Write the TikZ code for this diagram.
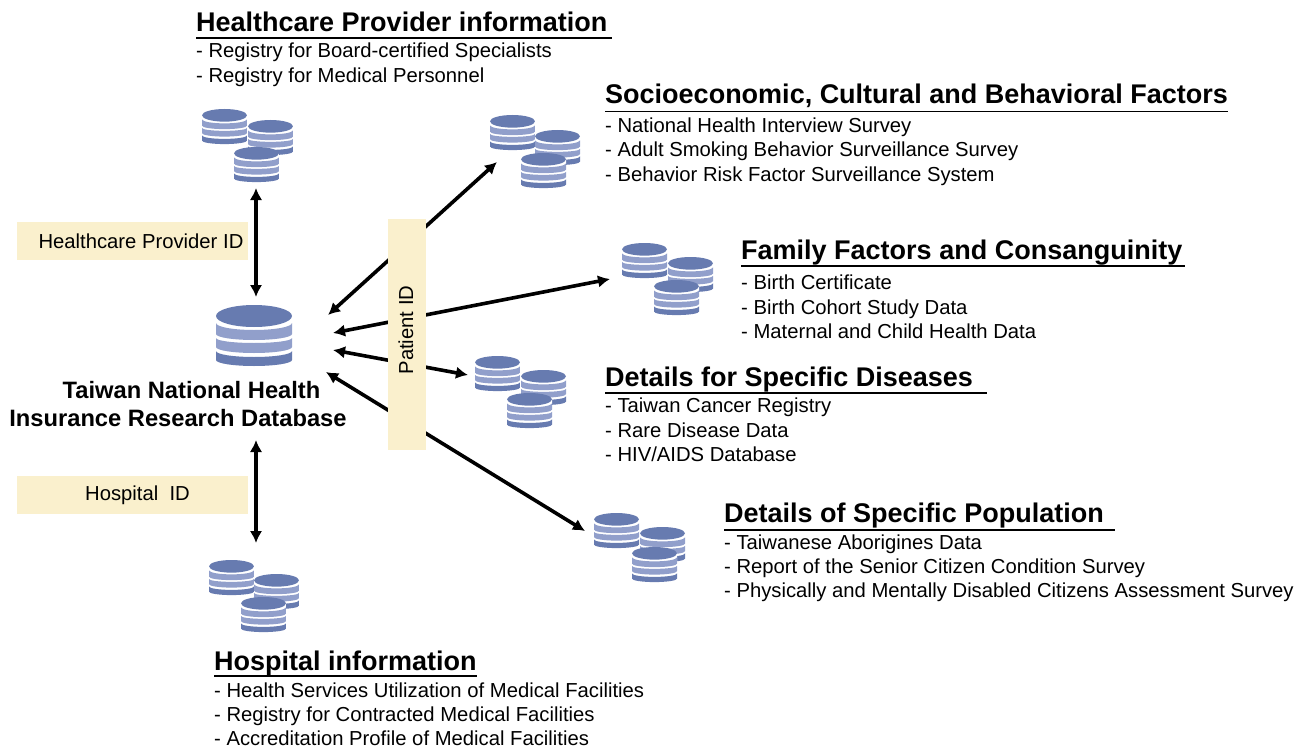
\documentclass[tikz,border=0pt]{standalone}
\usepackage{fontspec}
\setmainfont{Liberation Sans}
\usetikzlibrary{arrows.meta}
\definecolor{dbdark}{HTML}{677BB0}
\definecolor{dblight}{HTML}{919FCB}
\definecolor{idfill}{HTML}{FAF0CD}
\tikzset{
  x=1pt,y=-1pt,
  body/.style={anchor=base west,inner sep=0pt,font=\fontsize{20.25}{20}\selectfont},
  head/.style={anchor=base west,inner sep=0pt,font=\fontsize{27}{27}\selectfont\bfseries},
  rule/.style={line width=1.7pt},
  link/.style={line width=3.6pt,{Latex[length=12pt,width=12.5pt]}-{Latex[length=12pt,width=12.5pt]}},
  idbox/.style={fill=idfill,draw=none,inner sep=0pt},
  idtext/.style={inner sep=0pt,font=\fontsize{20.25}{20}\selectfont},
  pics/dbicon/.style={code={
    \fill[white] (0,11) -- (76,11) -- (76,55) arc[start angle=0,end angle=180,x radius=38,y radius=6] -- cycle;
    \fill[dbdark] (38,11) ellipse[x radius=38,y radius=11];
    \fill[dblight] (0,18) arc[start angle=180,end angle=0,x radius=38,y radius=7] -- (76,29) arc[start angle=0,end angle=180,x radius=38,y radius=6] -- cycle;
    \fill[dblight] (0,33) arc[start angle=180,end angle=0,x radius=38,y radius=5] -- (76,42) arc[start angle=0,end angle=180,x radius=38,y radius=6] -- cycle;
    \fill[dbdark] (0,46) arc[start angle=180,end angle=0,x radius=38,y radius=6] -- (76,55) arc[start angle=0,end angle=180,x radius=38,y radius=6] -- cycle;
  }},
  small/.style={xscale=0.592,yscale=0.575},
}
\begin{document}
\begin{tikzpicture}
\useasboundingbox (0,0) rectangle (1300,749);
% database icons
\pic at (216,305) {dbicon};
\foreach \a/\b in {202/109,248/120,234/147, 490/115,535/130,521/153, 622/243,668/257,654/280, 475/356,521/370,507/393, 594/513,640/527,632/547, 209/560,254/574,241/597}{
  \pic[small] at (\a,\b) {dbicon};
}
% connector ends
\coordinate (dbTop) at (256,297);
\coordinate (provider) at (256,188);
\coordinate (dbBottom) at (256,440);
\coordinate (hospital) at (256,543);
\coordinate (inA) at (328,315);
\coordinate (inB) at (333,333);
\coordinate (inC) at (333,350);
\coordinate (inD) at (326,372);
\coordinate (socio) at (497,162);
\coordinate (family) at (610,279);
\coordinate (disease) at (468,375);
\coordinate (population) at (585,531);
\draw[link] (dbTop) -- (provider);
\draw[link] (dbBottom) -- (hospital);
\draw[link] (inA) -- (socio);
\draw[link] (inB) -- (family);
\draw[link] (inC) -- (disease);
\draw[link] (inD) -- (population);
% ID boxes
\node[idbox,minimum width=38pt,minimum height=231pt] (patient) at (407,334.5) {};
\node[idtext,rotate=90] (patientlabel) at (406,330) {Patient ID};
\node[idbox,minimum width=231pt,minimum height=38pt] (provid) at (132.5,241) {};
\node[idtext] (providlabel) at (141,241) {Healthcare Provider ID};
\node[idbox,minimum width=231pt,minimum height=38pt] (hospid) at (132.5,495) {};
\node[idtext] (hospidlabel) at (137.5,495) {Hospital\ \ ID};
% central label
\node[inner sep=0pt,align=center,font=\fontsize{23.7}{28}\selectfont\bfseries] (central) at (178,404) {\hspace*{27pt}Taiwan National Health\\Insurance Research Database};
% Healthcare provider
\node[head] (h1) at (196,32) {Healthcare Provider information};
\draw[rule] (196,38) -- (612,38);
\node[body] at (196,58) {- Registry for Board-certified Specialists};
\node[body] at (196,83) {- Registry for Medical Personnel};
% Socio
\node[head] (h2) at (605,104) {Socioeconomic, Cultural and Behavioral Factors};
\draw[rule] (605,111.5) -- (1228,111.5);
\node[body] at (605,132) {- National Health Interview Survey};
\node[body] at (605,156) {- Adult Smoking Behavior Surveillance Survey};
\node[body] at (605,181) {- Behavior Risk Factor Surveillance System};
% Family
\node[head] (h3) at (741,259) {Family Factors and Consanguinity};
\draw[rule] (741,266) -- (1185,266);
\node[body] at (741,289) {- Birth Certificate};
\node[body] at (741,314) {- Birth Cohort Study Data};
\node[body] at (741,338) {- Maternal and Child Health Data};
% Diseases
\node[head] (h4) at (605,386) {Details for Specific Diseases};
\draw[rule] (605,393) -- (987,393);
\node[body] at (605,412) {- Taiwan Cancer Registry};
\node[body] at (605,437) {- Rare Disease Data};
\node[body] at (605,461) {- HIV/AIDS Database};
% Population
\node[head] (h5) at (724,522) {Details of Specific Population};
\draw[rule] (724,530) -- (1115,530);
\node[body] at (724,549) {- Taiwanese Aborigines Data};
\node[body] at (724,573) {- Report of the Senior Citizen Condition Survey};
\node[body] at (724,597) {- Physically and Mentally Disabled Citizens Assessment Survey};
% Hospital
\node[head] (h6) at (214,670) {Hospital information};
\draw[rule] (214,676) -- (477,676);
\node[body] at (214,697) {- Health Services Utilization of Medical Facilities};
\node[body] at (214,721) {- Registry for Contracted Medical Facilities};
\node[body] at (214,745) {- Accreditation Profile of Medical Facilities};
\end{tikzpicture}
\end{document}
